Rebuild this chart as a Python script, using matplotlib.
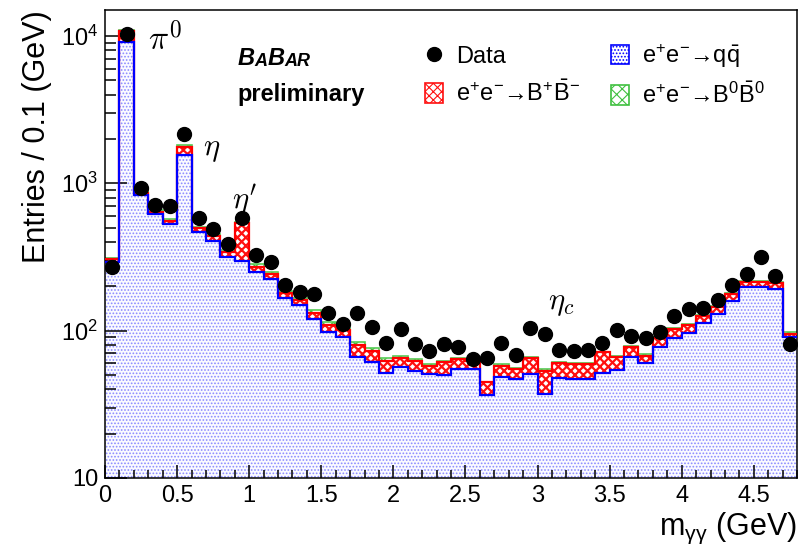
import numpy as np
import matplotlib
matplotlib.use("Agg")
import matplotlib.pyplot as plt
from matplotlib.patches import Patch
from matplotlib.lines import Line2D
from matplotlib.ticker import FixedLocator, LogLocator, NullFormatter, MultipleLocator

# ---------------- data ----------------
bin_edges = np.linspace(0.0, 4.8, 49)
data_counts = [272, 10335, 926, 713, 705, 2154, 580, 488, 386, 585, 324, 291, 204, 184, 177, 131,
               111, 131, 105.5, 82.9, 102.7, 81.2, 73.1, 81.2, 77.9, 63.9, 64.9, 82.5, 68.4, 104.8,
               94.5, 74.0, 73.1, 74.0, 82.9, 101.1, 92.5, 89.6, 98.4, 126.4, 139.7, 143.3, 161.6,
               204, 242.6, 315, 235, 81.2]
qq_counts = [294, 9077, 834, 617, 528, 1551, 466, 408, 318, 297, 251, 224, 167.5, 149.4, 119.5, 98.4,
             91.1, 66.6, 61.6, 51.4, 56.4, 53.3, 50.6, 50.0, 55.0, 55.0, 36.4, 48.3, 46.8, 50.8,
             37.2, 48.0, 46.8, 46.8, 51.4, 54.1, 66.0, 60.1, 77.9, 89.6, 96.0, 112.2, 129.2,
             159.9, 197.1, 197.1, 191, 90.0]
bpbm_counts = [13, 1753, 31, 26, 27, 224, 30, 33, 26, 244, 21, 17, 13.5, 12.2, 11.5, 10.9,
               10.0, 13.4, 11.5, 10.9, 9.2, 9.0, 7.3, 11.0, 9.3, 7.6, 8.2, 9.3, 8.2, 14.1,
               16.1, 12.1, 12.6, 12.6, 19.9, 11.9, 11.9, 7.6, 11.7, 12.6, 13.3, 14.2, 16.4,
               17.6, 16.0, 16.0, 18.8, 5.0]
b0b0_counts = [6, 200, 17, 13, 15, 39, 12.4, 9.7, 7, 8.6, 11.7, 9.6, 5.8, 4.4, 6.9, 4.7,
               2.7, 3.4, 2.8, 2.7, 2.1, 2.0, 1.6, 1.5, 1.3, 0.7, 0.4, 1.4, 0.6, 1.0,
               1.4, 1.0, 1.0, 1.0, 0.7, 1.7, 0.9, 1.8, 1.4, 1.6, 1.7, 2.0, 2.3,
               3.6, 4.3, 4.3, 4.2, 3.0]
y_ticks = [10, 100, 1000, 10000]
y_ticklabels = ["10", r"$\mathregular{10^{2}}$", r"$\mathregular{10^{3}}$", r"$\mathregular{10^{4}}$"]
x_ticks = [0, 0.5, 1, 1.5, 2, 2.5, 3, 3.5, 4, 4.5]
x_ticklabels = ["0", "0.5", "1", "1.5", "2", "2.5", "3", "3.5", "4", "4.5"]

# ---------------- style ----------------
plt.rcParams['font.family'] = ['Liberation Sans', 'DejaVu Sans']
plt.rcParams['mathtext.fontset'] = 'custom'
plt.rcParams['mathtext.rm'] = 'Liberation Sans'
plt.rcParams['mathtext.it'] = 'Liberation Sans:italic'
plt.rcParams['mathtext.bf'] = 'Liberation Sans:bold'
plt.rcParams['hatch.linewidth'] = 0.8


def set_hlw(artist, lw):
    if hasattr(artist, 'set_hatch_linewidth'):
        artist.set_hatch_linewidth(lw)


fig = plt.figure(figsize=(8.02, 5.46), dpi=100)
ax = fig.add_axes([105/802, 1-478/546, 692/802, 468/546])

edges = bin_edges
qq = np.array(qq_counts, float)
bp = np.array(bpbm_counts, float)
b0 = np.array(b0b0_counts, float)
lvl1 = qq
lvl2 = qq + bp
lvl3 = qq + bp + b0
centers = 0.5 * (edges[:-1] + edges[1:])

BLUE_H = '#8a8aff'
RED_H = '#ff1010'
GREEN_H = '#40c040'

# fills
p1 = ax.stairs(lvl1, edges, baseline=1.0, fill=True, facecolor='#fbfbff', edgecolor=BLUE_H,
               hatch='.....', linewidth=0, zorder=1)
p2 = ax.stairs(lvl2, edges, baseline=lvl1, fill=True, facecolor='white', edgecolor=RED_H,
               hatch='xxxx', linewidth=0, zorder=1)
p3 = ax.stairs(lvl3, edges, baseline=lvl2, fill=True, facecolor='white', edgecolor=GREEN_H,
               hatch='xxx', linewidth=0, zorder=1)
set_hlw(p1, 0.8)
set_hlw(p2, 1.6)
set_hlw(p3, 1.0)
# outlines
ax.stairs(lvl3, edges, baseline=None, color='#55cc55', linewidth=1.2, zorder=2)
ax.stairs(lvl2, edges, baseline=None, color='#ff0000', linewidth=1.6, zorder=3)
ax.stairs(lvl1, edges, baseline=None, color='#0000ff', linewidth=1.6, zorder=4)

ax.plot(centers, data_counts, 'o', color='black', markersize=10, zorder=5)

ax.set_yscale('log')
ax.set_xlim(0, 4.8)
ax.set_ylim(10, 15000)

ax.yaxis.set_major_locator(FixedLocator(y_ticks))
ax.set_yticklabels(y_ticklabels)
ax.yaxis.set_minor_locator(LogLocator(base=10, subs=np.arange(2, 10)))
ax.yaxis.set_minor_formatter(NullFormatter())
ax.xaxis.set_major_locator(FixedLocator(x_ticks))
ax.set_xticklabels(x_ticklabels)
ax.xaxis.set_minor_locator(MultipleLocator(0.1))

ax.tick_params(axis='both', which='both', direction='in', top=False, right=False,
               width=1.1, labelsize=17)
ax.tick_params(axis='x', which='major', length=9.5, pad=5)
ax.tick_params(axis='x', which='minor', length=5.5)
ax.tick_params(axis='y', which='major', length=15.5, pad=5)
ax.tick_params(axis='y', which='minor', length=8)
for s in ax.spines.values():
    s.set_linewidth(1.1)

ax.set_ylabel('Entries / 0.1 (GeV)', fontsize=22, loc='top')
ax.yaxis.set_label_coords(-0.076, 1.0)
ax.set_xlabel(r'm$_{\mathregular{γγ}}$ (GeV)', fontsize=22, loc='right')
ax.xaxis.set_label_coords(1.0, -0.07)

# resonance labels
ax.text(0.062, 0.936, r'$\pi^0$', transform=ax.transAxes, fontsize=24, va='center',
        ha='left', math_fontfamily='cm')
ax.text(0.142, 0.702, r'$\eta$', transform=ax.transAxes, fontsize=22, va='center',
        ha='left', math_fontfamily='cm')
ax.text(0.183, 0.594, r"$\eta'$", transform=ax.transAxes, fontsize=22, va='center',
        ha='left', math_fontfamily='cm')
ax.text(0.64, 0.375, r'$\eta_c$', transform=ax.transAxes, fontsize=22, va='center',
        ha='left', math_fontfamily='cm')

# BaBar logo
t = ax.text(0.191, 0.882, 'B', transform=ax.transAxes, fontsize=17, fontweight='bold',
            fontstyle='italic', va='baseline', ha='left')
prev = t
for ch, fs in [('A', 13), ('B', 17), ('AR', 13)]:
    prev = ax.annotate(ch, xy=(1, 0), xycoords=prev, fontsize=fs, fontweight='bold',
                       fontstyle='italic', va='bottom', ha='left')
ax.text(0.191, 0.806, 'preliminary', transform=ax.transAxes, fontsize=17,
        fontweight='bold', va='baseline', ha='left')

# legend
h_data = Line2D([], [], marker='o', color='black', linestyle='none', markersize=10)
h_qq = Patch(facecolor='white', edgecolor='#0000ff', hatch='.....', linewidth=1.2)
h_bp = Patch(facecolor='white', edgecolor=RED_H, hatch='xxxx', linewidth=1.2)
h_b0 = Patch(facecolor='white', edgecolor=GREEN_H, hatch='xxx', linewidth=1.2)
set_hlw(h_bp, 1.6)
labels = ['Data',
          r'e$^{+}$e$^{-}$→B$^{+}$$\bar{\mathregular{B}}^{-}$',
          r'e$^{+}$e$^{-}$→q$\bar{\mathregular{q}}$',
          r'e$^{+}$e$^{-}$→B$^{0}$$\bar{\mathregular{B}}^{0}$']
leg = ax.legend([h_data, h_bp, h_qq, h_b0], labels, ncol=2, frameon=False,
                loc='upper left', bbox_to_anchor=(0.462, 0.932), fontsize=17,
                handlelength=0.78, handleheight=0.9, handletextpad=0.55,
                columnspacing=1.3, labelspacing=0.55, borderpad=0, borderaxespad=0)

fig.savefig('out.png', dpi=100)
